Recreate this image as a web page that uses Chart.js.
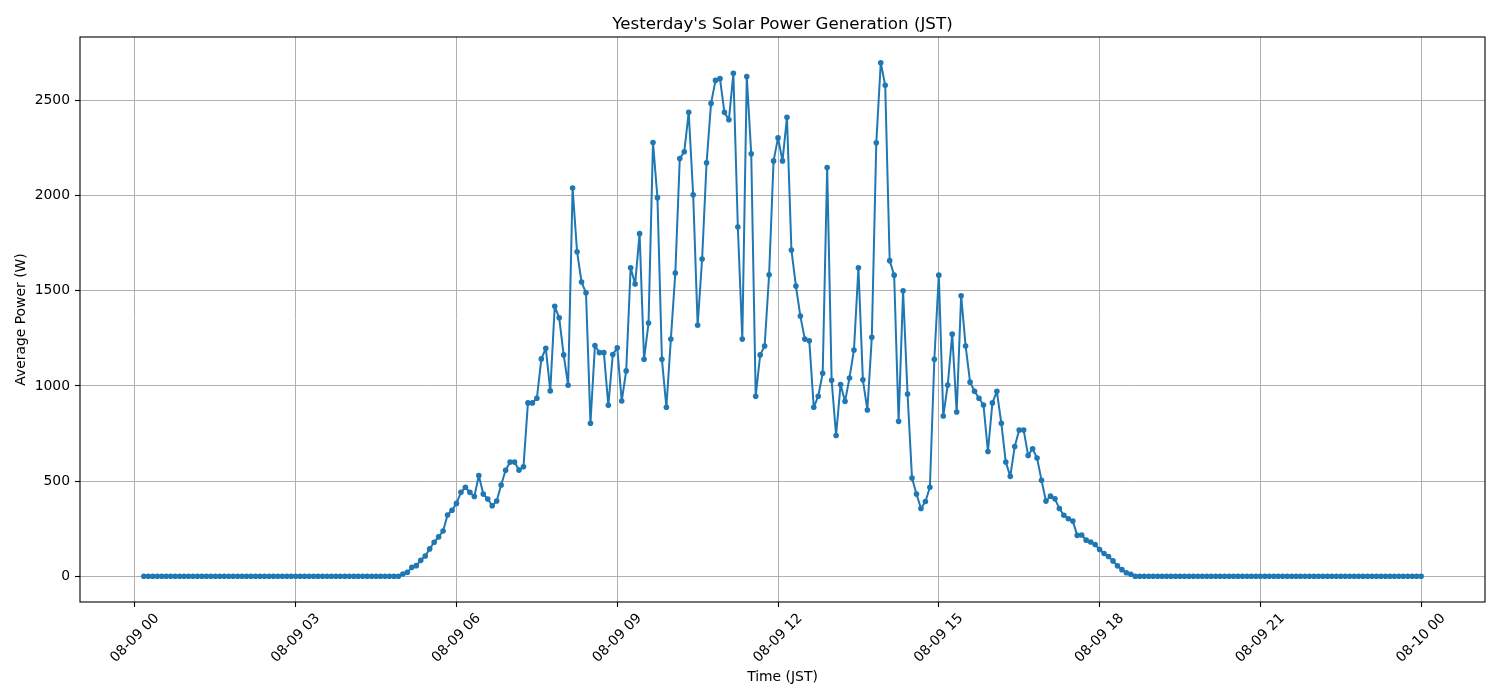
<!DOCTYPE html>
<html>
<head>
<meta charset="utf-8">
<script src="https://cdn.jsdelivr.net/npm/chart.js@4.4.1/dist/chart.umd.min.js"></script>
<style>
html, body { margin: 0; padding: 0; background: #ffffff; }
#wrap { width: 1500px; height: 700px; position: relative; }
</style>
</head>
<body>
<div id="wrap"><canvas id="c"></canvas></div>
<script>
// Sampling: first sample at 00:10 (JST), every 5 minutes, last at 24:00
const firstSampleMinute = 10;
const sampleStepMinutes = 5;

// Average power (W), one value per 5-minute sample
const powerW = [
  // 00:10 - 00:55
  0,0,0,0,0,0,0,0,0,0,
  // 01:00 - 04:55
  0,0,0,0,0,0,0,0,0,0,0,0,
  0,0,0,0,0,0,0,0,0,0,0,0,
  0,0,0,0,0,0,0,0,0,0,0,0,
  0,0,0,0,0,0,0,0,0,0,0,0,
  // 05:00 - 05:55
  12,21,47,56,84,107,144,179,207,238,322,347,
  // 06:00 - 06:55
  383,441,468,441,419,529,432,406,371,396,480,557,
  // 07:00 - 07:55
  600,600,558,575,911,911,935,1142,1198,974,1418,1358,
  // 08:00 - 08:55
  1163,1004,2040,1705,1546,1489,804,1212,1175,1175,898,1165,
  // 09:00 - 09:55
  1200,921,1079,1621,1535,1800,1140,1330,2279,1989,1140,888,
  // 10:00 - 10:55
  1246,1593,2195,2230,2437,2004,1319,1667,2172,2484,2605,2614,
  // 11:00 - 11:55
  2437,2398,2642,1835,1246,2625,2219,946,1163,1210,1584,2182,
  // 12:00 - 12:55
  2303,2182,2411,1714,1525,1367,1246,1237,888,946,1067,2147,
  // 13:00 - 13:55
  1030,740,1007,919,1042,1189,1621,1032,874,1256,2277,2698,
  // 14:00 - 14:55
  2579,1658,1582,814,1500,958,516,432,356,393,468,1140,
  // 15:00 - 15:55
  1582,842,1005,1272,863,1474,1210,1020,972,935,900,656,
  // 16:00 - 16:55
  911,972,804,600,525,682,768,768,635,670,621,505,
  // 17:00 - 17:55
  395,421,407,356,321,302,290,215,217,190,180,167,
  // 18:00 - 18:55
  141,120,104,81,55,35,19,11,0,0,0,0,
  // 19:00 - 23:55
  0,0,0,0,0,0,0,0,0,0,0,0,
  0,0,0,0,0,0,0,0,0,0,0,0,
  0,0,0,0,0,0,0,0,0,0,0,0,
  0,0,0,0,0,0,0,0,0,0,0,0,
  0,0,0,0,0,0,0,0,0,0,0,0,
  // 24:00
  0
];

// Axis ticks
const xTickHours = [0, 3, 6, 9, 12, 15, 18, 21, 24];
const xTickLabels = ['08-09 00', '08-09 03', '08-09 06', '08-09 09', '08-09 12',
                     '08-09 15', '08-09 18', '08-09 21', '08-10 00'];
const yTickValues = [0, 500, 1000, 1500, 2000, 2500];

const chartTitle = "Yesterday's Solar Power Generation (JST)";
const xTitle = 'Time (JST)';
const yTitle = 'Average Power (W)';

// ---- build points ----
const points = powerW.map((v, i) => ({ x: (firstSampleMinute + i * sampleStepMinutes) / 60, y: v }));

// matplotlib-like 5% margins
const xs = points.map(p => p.x), ys = points.map(p => p.y);
const xMinD = Math.min(...xs), xMaxD = Math.max(...xs);
const yMinD = Math.min(...ys), yMaxD = Math.max(...ys);
const xMargin = 0.05 * (xMaxD - xMinD), yMargin = 0.05 * (yMaxD - yMinD);

const FONT = 'DejaVu Sans';
const TICK_PX = 13.9;
const TITLE_PX = 16.7;

const frameTitleAndXLabels = {
  id: 'frameTitleAndXLabels',
  afterDraw(chart) {
    const { ctx, chartArea: a, scales: { x } } = chart;
    ctx.save();
    // axes frame
    ctx.strokeStyle = '#000';
    ctx.lineWidth = 1.1;
    ctx.strokeRect(a.left, a.top, a.right - a.left, a.bottom - a.top);
    // title centred over the axes
    ctx.fillStyle = '#000';
    ctx.font = TITLE_PX + 'px "' + FONT + '"';
    ctx.textAlign = 'center';
    ctx.textBaseline = 'middle';
    ctx.fillText(chartTitle, (a.left + a.right) / 2, a.top - 12.5);
    // rotated x tick labels (centred like matplotlib)
    ctx.font = TICK_PX + 'px "' + FONT + '"';
    const top = a.bottom + 9.7;
    xTickHours.forEach((h, i) => {
      const label = xTickLabels[i];
      const w = ctx.measureText(label).width;
      const hgt = TICK_PX * 0.9;
      const side = (w + hgt) * Math.SQRT1_2;
      const px = x.getPixelForValue(h);
      ctx.save();
      ctx.translate(px, top + side / 2);
      ctx.rotate(-Math.PI / 4);
      ctx.fillText(label, 0, 0);
      ctx.restore();
    });
    ctx.restore();
  }
};

const gridOpts = { color: '#b0b0b0', lineWidth: 1, tickColor: '#000', tickLength: 5, tickWidth: 1.1, drawTicks: true };

new Chart(document.getElementById('c'), {
  type: 'line',
  data: {
    datasets: [{
      data: points,
      borderColor: '#1f77b4',
      backgroundColor: '#1f77b4',
      borderWidth: 2,
      borderJoinStyle: 'round',
      borderCapStyle: 'round',
      pointRadius: 2.8,
      pointBorderWidth: 0,
      pointHoverRadius: 2.8,
      tension: 0,
      fill: false
    }]
  },
  options: {
    responsive: true,
    maintainAspectRatio: false,
    animation: false,
    devicePixelRatio: 1,
    layout: { padding: { left: 0, right: 15, top: 37, bottom: 0 } },
    plugins: {
      legend: { display: false },
      tooltip: { enabled: false },
      title: { display: false }
    },
    scales: {
      x: {
        type: 'linear',
        min: xMinD - xMargin,
        max: xMaxD + xMargin,
        afterBuildTicks: s => { s.ticks = xTickHours.map(v => ({ value: v })); },
        afterFit: s => { s.height = 98; },
        ticks: { display: false },
        grid: gridOpts,
        border: { display: false },
        title: {
          display: true,
          text: xTitle,
          color: '#000',
          font: { family: FONT, size: TICK_PX },
          padding: { top: 0, bottom: 14.5 }
        }
      },
      y: {
        type: 'linear',
        min: yMinD - yMargin,
        max: yMaxD + yMargin,
        afterBuildTicks: s => { s.ticks = yTickValues.map(v => ({ value: v })); },
        afterFit: s => { s.width = 80; },
        ticks: {
          color: '#000',
          font: { family: FONT, size: TICK_PX },
          padding: 5,
          callback: v => String(v)
        },
        grid: gridOpts,
        border: { display: false },
        title: {
          display: true,
          text: yTitle,
          color: '#000',
          font: { family: FONT, size: TICK_PX },
          padding: { top: 13, bottom: 0 }
        }
      }
    }
  },
  plugins: [frameTitleAndXLabels]
});
</script>
</body>
</html>
